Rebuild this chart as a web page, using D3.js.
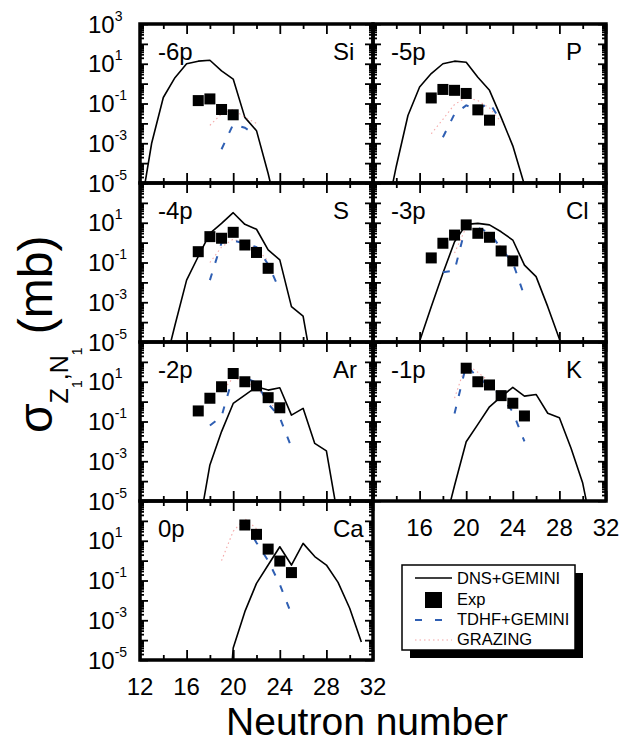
<!DOCTYPE html>
<html>
<head>
<meta charset="utf-8">
<script src="https://cdn.jsdelivr.net/npm/d3@7"></script>
<style>
  body { margin: 0; background: #fff; }
  svg { display: block; }
  text { font-family: Arial, "Liberation Sans", sans-serif; fill: #000; }
</style>
</head>
<body>
<svg id="chart" width="644" height="743"></svg>
<script>
// Panel identifiers: proton-removal channel and element
const shifts   = ["-6p", "-5p", "-4p", "-3p", "-2p", "-1p", "0p"];
const elements = ["Si", "P", "S", "Cl", "Ar", "K", "Ca"];

// DNS+GEMINI cross sections [neutron number, mb]
const dnsSi = [[12,3e-7],[13,1e-3],[14,0.2],[15,2.0],[16,10],[17,13.5],[18,15],[19,4.4],[20,1.7],[21,0.02],[22,4.3e-3],[23,3e-5],[24,1e-7]];
const dnsP  = [[13,1e-7],[14,7e-5],[15,0.025],[16,0.68],[17,3.2],[18,10],[19,13.5],[20,12],[21,2.1],[22,0.46],[23,0.02],[24,7.4e-4],[25,8e-6],[26,1e-8]];
const dnsS  = [[14,3e-7],[15,7e-5],[16,0.013],[17,0.2],[18,2.95],[19,9.3],[20,32],[21,8.3],[22,4.7],[23,0.43],[24,0.135],[25,6e-4],[26,2e-4],[27,1e-7]];
const dnsCl = [[15,1e-7],[16,1.1e-5],[17,6e-4],[18,0.029],[19,1.1],[20,8.3],[21,9.3],[22,7.8],[23,3.5],[24,1.35],[25,0.074],[26,0.0195],[27,6e-4],[28,1.4e-5],[29,1e-7]];
const dnsAr = [[17,3e-7],[18,6.5e-4],[19,0.031],[20,0.81],[21,2.1],[22,5.6],[23,3.8],[24,5.0],[25,0.21],[26,0.46],[27,0.0079],[28,3.3e-3],[29,1.4e-6]];
const dnsK  = [[18,3e-7],[19,6e-5],[20,9.5e-3],[21,0.072],[22,0.55],[23,1.78],[24,5.2],[25,1.9],[26,2.3],[27,0.26],[28,0.155],[29,4.5e-3],[30,8e-5],[31,1e-7]];
const dnsCa = [[19,1e-12],[20,4e-5],[21,2.7e-3],[22,0.072],[23,0.6],[24,5.0],[25,0.6],[26,7.4],[27,1.6],[28,0.6],[29,0.08],[30,4e-3],[31,8e-5]];

// Measured cross sections
const expSi = [[17,0.14],[18,0.17],[19,0.05],[20,0.027]];
const expP  = [[17,0.19],[18,0.51],[19,0.46],[20,0.32],[21,0.048],[22,0.0145]];
const expS  = [[17,0.35],[18,2.0],[19,1.66],[20,3.3],[21,0.76],[22,0.32],[23,0.051]];
const expCl = [[17,0.17],[18,0.93],[19,2.4],[20,7.8],[21,2.95],[22,1.86],[23,0.38],[24,0.12]];
const expAr = [[17,0.34],[18,1.48],[19,5.6],[20,26],[21,10],[22,6.2],[23,1.58],[24,0.49]];
const expK  = [[20,48],[21,10],[22,6.9],[23,2.0],[24,0.83],[25,0.19]];
const expCa = [[21,62],[22,21],[23,3.8],[24,0.95],[25,0.25]];

// TDHF+GEMINI cross sections
const tdhfSi = [[19,5e-4],[20,9e-3],[21,6e-3],[22,2.5e-3]];
const tdhfP  = [[18,2e-3],[19,0.03],[20,0.08],[21,0.05],[22,0.11],[23,0.012]];
const tdhfS  = [[18,0.013],[19,1.0],[20,1.26],[21,0.9],[22,0.6],[23,0.08],[24,4e-3]];
const tdhfCl = [[18,0.032],[19,0.04],[20,8],[21,5.6],[22,3.2],[23,0.5],[24,0.1],[25,2e-3]];
const tdhfAr = [[18,0.063],[19,0.18],[20,20],[21,15.8],[22,8.9],[23,0.8],[24,0.16],[25,5e-3]];
const tdhfK  = [[19,0.25],[20,70],[21,16],[22,6.3],[23,2.0],[24,0.3],[25,0.01]];
const tdhfCa = [[21,80],[22,8],[23,1.0],[24,0.063],[25,2e-3]];

// GRAZING cross sections
const grzSi = [[18,8e-3],[19,0.03],[20,0.05],[21,0.02],[22,0.01]];
const grzP  = [[17,3e-3],[18,0.016],[19,0.09],[20,0.2],[21,0.14],[22,0.06],[23,0.012]];
const grzS  = [[18,0.1],[19,0.6],[20,1.5],[21,0.9],[22,0.5],[23,0.12]];
const grzCl = [[19,0.3],[20,6],[21,4],[22,2.5],[23,0.6],[24,0.15]];
const grzAr = [[19,3],[20,16],[21,10],[22,5],[23,1],[24,0.3]];
const grzK  = [[19,1.5],[20,80],[21,30],[22,10]];
const grzCa = [[19,1.0],[20,30],[21,130],[22,40]];

// Axis ticks
const xMajor = [12, 16, 20, 24, 28, 32];
const xMinor = [14, 18, 22, 26, 30];
const yExpAll = [3, 1, -1, -3, -5];
const yExpLower = [1, -1, -3, -5];
const rightXLabels = [16, 20, 24, 28, 32];

const dns  = [dnsSi, dnsP, dnsS, dnsCl, dnsAr, dnsK, dnsCa];
const exp  = [expSi, expP, expS, expCl, expAr, expK, expCa];
const tdhf = [tdhfSi, tdhfP, tdhfS, tdhfCl, tdhfAr, tdhfK, tdhfCa];
const grz  = [grzSi, grzP, grzS, grzCl, grzAr, grzK, grzCa];

// Layout
const colX = [140, 373];
const rowY = [24, 183, 342, 501];
const W = 233, H = 159;

const BLUE = "#2f5fb3";
const PINK = "#f08a8a";

const svg = d3.select("#chart");
const defs = svg.append("defs");

const x = d3.scaleLinear().domain([12, 32]).range([0, W]);
const y = d3.scaleLog().domain([1e-5, 1e3]).range([H, 0]);
const line = d3.line().x(d => x(d[0])).y(d => y(d[1]));

const decades = d3.range(-5, 4).map(k => Math.pow(10, k));
const minors = [];
for (let k = -5; k < 3; k++) for (let m = 2; m <= 9; m++) minors.push(m * Math.pow(10, k));

function styleAxis(sel) {
  sel.select(".domain").remove();
  sel.selectAll(".tick line").attr("stroke", "#000").attr("stroke-width", 1.8);
  sel.selectAll(".tick text").remove();
}

elements.forEach((el, i) => {
  const col = i % 2, row = Math.floor(i / 2);
  const g = svg.append("g").attr("transform", `translate(${colX[col]},${rowY[row]})`);

  defs.append("clipPath").attr("id", "clip" + i)
    .append("rect").attr("x", 0).attr("y", 0).attr("width", W).attr("height", H);

  const plot = g.append("g").attr("clip-path", `url(#clip${i})`);

  plot.append("path").datum(dns[i]).attr("d", line)
    .attr("fill", "none").attr("stroke", "#000").attr("stroke-width", 1.6)
    .attr("stroke-linejoin", "round");

  plot.append("path").datum(grz[i]).attr("d", line)
    .attr("fill", "none").attr("stroke", PINK).attr("stroke-width", 1.1)
    .attr("stroke-dasharray", "1.5,3").attr("opacity", 0.75);

  plot.append("path").datum(tdhf[i]).attr("d", line)
    .attr("fill", "none").attr("stroke", BLUE).attr("stroke-width", 2)
    .attr("stroke-dasharray", "7,11");

  plot.selectAll("rect.exp").data(exp[i]).enter().append("rect")
    .attr("class", "exp")
    .attr("x", d => x(d[0]) - 5.5).attr("y", d => y(d[1]) - 5.5)
    .attr("width", 11).attr("height", 11).attr("fill", "#000");

  // inward ticks on all four sides
  g.append("g").call(d3.axisLeft(y).tickValues(decades).tickSize(-8)).call(styleAxis);
  g.append("g").call(d3.axisLeft(y).tickValues(minors).tickSize(-4)).call(styleAxis);
  g.append("g").attr("transform", `translate(${W},0)`)
    .call(d3.axisRight(y).tickValues(decades).tickSize(-8)).call(styleAxis);
  g.append("g").attr("transform", `translate(${W},0)`)
    .call(d3.axisRight(y).tickValues(minors).tickSize(-4)).call(styleAxis);
  g.append("g").call(d3.axisTop(x).tickValues(xMajor).tickSize(-10)).call(styleAxis);
  g.append("g").call(d3.axisTop(x).tickValues(xMinor).tickSize(-5)).call(styleAxis);
  g.append("g").attr("transform", `translate(0,${H})`)
    .call(d3.axisBottom(x).tickValues(xMajor).tickSize(-10)).call(styleAxis);
  g.append("g").attr("transform", `translate(0,${H})`)
    .call(d3.axisBottom(x).tickValues(xMinor).tickSize(-5)).call(styleAxis);

  g.append("rect").attr("x", 0).attr("y", 0).attr("width", W).attr("height", H)
    .attr("fill", "none").attr("stroke", "#000").attr("stroke-width", 3.5);

  g.append("text").attr("x", 18).attr("y", 36).attr("font-size", 24).text(shifts[i]);
  g.append("text").attr("x", 193).attr("y", 36).attr("font-size", 24).text(el);

  // power-of-ten labels on the left column
  if (col === 0) {
    const exps = row === 0 ? yExpAll : yExpLower;
    exps.forEach(k => {
      const t = g.append("text")
        .attr("x", 88 - colX[0]).attr("y", y(Math.pow(10, k)) + 8.5)
        .attr("font-size", 24);
      t.append("tspan").text("10");
      t.append("tspan").attr("font-size", 14).attr("dy", -12).text(String(k));
    });
  }
  // neutron-number labels under the bottom panel of each column
  const xl = (row === 3) ? xMajor : (col === 1 && row === 2 ? rightXLabels : null);
  if (xl) {
    xl.forEach(n => {
      g.append("text").attr("x", x(n)).attr("y", H + 35)
        .attr("text-anchor", "middle").attr("font-size", 24).text(n);
    });
  }
});

// Y-axis title
const yTitle = svg.append("text")
  .attr("transform", "translate(52,433) rotate(-90)")
  .attr("font-size", 48);
yTitle.append("tspan").text("σ");
yTitle.append("tspan").attr("font-size", 25).attr("dy", 16).text("Z");
yTitle.append("tspan").attr("font-size", 14).attr("dy", 14).text("1");
yTitle.append("tspan").attr("font-size", 25).attr("dy", -14).text(",");
yTitle.append("tspan").attr("font-size", 25).text("N");
yTitle.append("tspan").attr("font-size", 14).attr("dy", 14).text("1");
yTitle.append("tspan").attr("font-size", 48).attr("dy", -30).text(" (mb)");

// X-axis title
svg.append("text").attr("x", 367).attr("y", 735)
  .attr("text-anchor", "middle").attr("font-size", 39).text("Neutron number");

// Legend
const lg = svg.append("g");
lg.append("rect").attr("x", 410).attr("y", 573).attr("width", 173).attr("height", 85).attr("fill", "#000");
lg.append("rect").attr("x", 402).attr("y", 565).attr("width", 173).attr("height", 85)
  .attr("fill", "#fff").attr("stroke", "#000").attr("stroke-width", 1.5);

lg.append("line").attr("x1", 415).attr("x2", 452).attr("y1", 578).attr("y2", 578)
  .attr("stroke", "#000").attr("stroke-width", 1.6);
lg.append("rect").attr("x", 425).attr("y", 592).attr("width", 17).attr("height", 16).attr("fill", "#000");
lg.append("line").attr("x1", 415).attr("x2", 452).attr("y1", 620).attr("y2", 620)
  .attr("stroke", BLUE).attr("stroke-width", 2).attr("stroke-dasharray", "7,13");
lg.append("line").attr("x1", 415).attr("x2", 452).attr("y1", 640).attr("y2", 640)
  .attr("stroke", PINK).attr("stroke-width", 1.1).attr("stroke-dasharray", "1.5,3").attr("opacity", 0.75);

const legendLabels = ["DNS+GEMINI", "Exp", "TDHF+GEMINI", "GRAZING"];
const legendY = [584, 605, 625, 645];
legendLabels.forEach((s, j) => {
  lg.append("text").attr("x", 457).attr("y", legendY[j]).attr("font-size", 16.5).text(s);
});
</script>
</body>
</html>
